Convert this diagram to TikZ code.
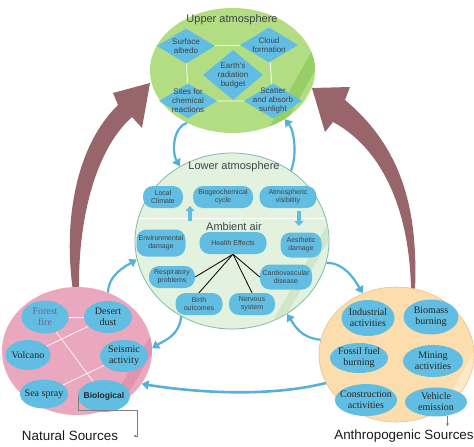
\documentclass[tikz,border=0pt]{standalone}
\usepackage{fontspec}
\setmainfont{Liberation Serif}
\setsansfont{Liberation Sans}
\usetikzlibrary{shapes.geometric, arrows.meta, positioning, calc}

\definecolor{uppergreen}{RGB}{178,221,130}
\definecolor{upperband}{RGB}{152,206,102}
\definecolor{lowergreen}{RGB}{226,242,222}
\definecolor{lowerband}{RGB}{208,230,203}
\definecolor{loweredge}{RGB}{125,188,168}
\definecolor{natpink}{RGB}{234,168,190}
\definecolor{natband}{RGB}{224,148,176}
\definecolor{anthorange}{RGB}{251,221,174}
\definecolor{anthband}{RGB}{253,232,200}
\definecolor{anthedge}{RGB}{238,192,142}
\definecolor{boxblue}{RGB}{98,189,226}
\definecolor{flowblue}{RGB}{86,177,217}
\definecolor{sourcebrown}{RGB}{152,101,107}
\definecolor{textgray}{RGB}{62,66,74}

\pgfdeclarelayer{bg}
\pgfdeclarelayer{mid}
\pgfsetlayers{bg,mid,main}

\tikzset{
  zone/.style={ellipse, inner sep=0pt},
  title/.style={font=\sffamily\fontsize{11}{12}\selectfont, text=textgray},
  dmd/.style={diamond, fill=boxblue, inner sep=0pt, minimum width=58pt, minimum height=35pt},
  dtext/.style={font=\sffamily\fontsize{8}{9}\selectfont, text=textgray, align=center},
  pill/.style={rounded corners=10pt, fill=boxblue, inner sep=0pt, minimum width=46pt, minimum height=22pt},
  ptext/.style={font=\sffamily\fontsize{7}{8.3}\selectfont, text=textgray, align=center},
  oval/.style={ellipse, fill=boxblue, inner sep=0pt, minimum width=48pt, minimum height=32pt},
  otext/.style={font=\fontsize{10}{11}\selectfont, text=black!85, align=center},
  flow/.style={flowblue, line width=2.2pt, -{Triangle[length=7pt,width=9pt]}},
  guide/.style={gray, line width=0.5pt, -{Stealth[length=3pt,width=3pt]}},
  srclabel/.style={font=\sffamily\fontsize{13.4}{14}\selectfont, text=black!90}
}

\begin{document}
\begin{tikzpicture}[x=1pt, y=-1pt]
\useasboundingbox (0,0) rectangle (474,447);

\begin{pgfonlayer}{bg}
  % big source arrows
  \fill[sourcebrown] (73,291) .. controls (64,230) and (72,150) .. (118,105)
    -- (113,93) -- (150,83) -- (142,128) -- (132,117)
    .. controls (95,150) and (78,220) .. (79,291) -- cycle;
  \fill[sourcebrown] (415,291) .. controls (418,215) and (405,150) .. (345,100)
    -- (350,87) -- (312,88) -- (325,132) -- (333,122)
    .. controls (385,150) and (410,215) .. (411,291) -- cycle;

  % zones
  \node[zone, fill=uppergreen, minimum width=165pt, minimum height=125pt] (upper) at (232.5,70.5) {};
  \node[zone, fill=lowergreen, draw=loweredge, line width=0.8pt, minimum width=194pt, minimum height=176pt] (lower) at (232,241) {};
  \node[zone, fill=natpink, minimum width=150pt, minimum height=128pt] (nat) at (77,351) {};
  \node[zone, fill=anthorange, draw=anthedge, line width=0.6pt, minimum width=155pt, minimum height=135pt] (anth) at (396.5,354.5) {};

  % glossy bands
  \begin{scope}
    \clip (upper.center) ellipse [x radius=82.5, y radius=62.5];
    \fill[upperband] (262,140) -- (318,40) -- (332,40) -- (276,140) -- cycle;
    \fill[uppergreen!60!white] (282,140) -- (338,40) -- (342,40) -- (286,140) -- cycle;
  \end{scope}
  \begin{scope}
    \clip (lower.center) ellipse [x radius=96.5, y radius=87.5];
    \fill[lowerband] (262,340) -- (330,220) -- (340,220) -- (272,340) -- cycle;
  \end{scope}
  \begin{scope}
    \clip (nat.center) ellipse [x radius=75, y radius=64];
    \fill[natband] (100,420) -- (160,320) -- (172,320) -- (112,420) -- cycle;
  \end{scope}
  \begin{scope}
    \clip (anth.center) ellipse [x radius=77, y radius=67];
    \fill[anthband] (430,430) -- (480,340) -- (490,340) -- (440,430) -- cycle;
  \end{scope}
\end{pgfonlayer}

% Upper atmosphere
\node[title] (uptitle) at (232,20) {Upper atmosphere};
\node[dmd, label={[dtext]center:Surface\\albedo}] (alb) at (186,46) {};
\node[dmd, label={[dtext]center:Cloud\\formation}] (cld) at (269,45) {};
\node[dmd, label={[dtext]center:Sites for\\chemical\\reactions}] (sites) at (188,101) {};
\node[dmd, label={[dtext]center:Scatter\\and absorb\\sunlight}] (scat) at (273,101) {};
\node[dmd, minimum width=60pt, minimum height=50pt, label={[dtext]center:Earth's\\radiation\\budget}] (earth) at (233,75) {};

% Lower atmosphere
\node[title] (lowtitle) at (234,167) {Lower atmosphere};
\node[pill, minimum width=40pt, label={[ptext]center:Local\\Climate}] (loc) at (163,197) {};
\node[pill, minimum width=60pt, label={[ptext]center:Biogeochemical\\cycle}] (bgc) at (223,197) {};
\node[pill, minimum width=57pt, label={[ptext]center:Atmospheric\\visibility}] (vis) at (288,197) {};
\node[title] (ambient) at (234,227) {Ambient air};
\node[pill, minimum width=49pt, minimum height=27pt, label={[ptext]center:Environmental\\damage}] (env) at (161,243) {};
\node[pill, minimum width=67pt, label={[ptext]center:Health Effects}] (hlth) at (233,243) {};
\node[pill, minimum width=41pt, minimum height=25pt, label={[ptext]center:Aesthetic\\damage}] (aes) at (301,245) {};
\node[pill, label={[ptext]center:Respiratory\\problems}] (resp) at (172,277) {};
\node[pill, minimum width=52pt, minimum height=25pt, label={[ptext]center:Cardiovascular\\disease}] (card) at (286,277) {};
\node[pill, minimum width=47pt, label={[ptext]center:Birth\\outcomes}] (birth) at (199,304) {};
\node[pill, label={[ptext]center:Nervous\\system}] (nerv) at (252,304) {};
\draw[white, line width=1pt] (139,218) -- (325,218);
\draw[boxblue, line width=4pt, -{Triangle[length=5pt,width=9pt]}] (190,221) -- (190,206);
\draw[boxblue, line width=4pt, -{Triangle[length=5pt,width=9pt]}] (299,211) -- (299,226);

% Natural sources
\node[oval, minimum width=47pt, minimum height=33pt, label={[otext, text=gray!80!blue]center:Forest\\fire}] (ff) at (45,317) {};
\node[oval, label={[otext]center:Desert\\dust}] (dd) at (108,317) {};
\node[oval, minimum width=45pt, minimum height=30pt, label={[otext]center:Volcano}] (vol) at (28,355) {};
\node[oval, label={[otext]center:Seismic\\activity}] (seis) at (124,356) {};
\node[oval, minimum height=29pt, label={[otext]center:Sea spray}] (sea) at (44,394) {};
\node[oval, minimum width=52pt, label={[otext, font=\sffamily\bfseries\fontsize{8.5}{10}\selectfont]center:Biological}] (bio) at (104,396) {};

% Anthropogenic sources
\node[oval, minimum width=53pt, minimum height=36pt, label={[otext]center:Industrial\\activities}] (ind) at (368,318) {};
\node[oval, minimum width=55pt, minimum height=35pt, label={[otext]center:Biomass\\burning}] (bms) at (431,317) {};
\node[oval, minimum width=58pt, minimum height=30pt, label={[otext]center:Fossil fuel\\burning}] (fos) at (359,358) {};
\node[oval, minimum width=60pt, label={[otext]center:Mining\\activities}] (min) at (433,361) {};
\node[oval, minimum width=62pt, label={[otext]center:Construction\\activities}] (con) at (366,400) {};
\node[oval, minimum width=62pt, minimum height=29pt, label={[otext]center:Vehicle\\emission}] (veh) at (436,402) {};

% labels
\node[srclabel] (natlab) at (70,436) {Natural Sources};
\node[srclabel] (anthlab) at (404,436) {Anthropogenic Sources};

\begin{pgfonlayer}{mid}
  \draw[white, line width=0.8pt] (alb) -- (cld) -- (scat) -- (sites) -- (alb);
  \draw[white, line width=0.7pt] (ff) -- (dd);
  \draw[white, line width=0.7pt] (ff) -- (bio);
  \draw[white, line width=0.7pt] (vol) -- (dd);
  \draw[white, line width=0.7pt] (sea) -- (seis);
  \draw[black, line width=0.8pt] (hlth.south) -- (resp.east);
  \draw[black, line width=0.8pt] (hlth.south) -- (birth.north);
  \draw[black, line width=0.8pt] (hlth.south) -- (nerv.north);
  \draw[black, line width=0.8pt] (hlth.south) -- (card.west);
\end{pgfonlayer}

% exchange flows
\draw[flow] (upper.229) .. controls +(-14,4) and +(-8,-14) .. (lower.125);
\draw[flow] (lower.50) .. controls +(6,-15) and +(10,12) .. (upper.-43);
\draw[flow] (lower.-13) .. controls +(18,0) and +(-8,-14) .. (anth.119);
\draw[flow] (anth.169) .. controls +(-20,-2) and +(8,12) .. (lower.-53);
\draw[flow] (lower.-124) .. controls +(-2,20) and +(12,-8) .. (nat.2);
\draw[flow] (nat.62) .. controls +(0,-18) and +(-10,6) .. (lower.191);
\draw[flow, line width=2.6pt] (anth.202) .. controls +(-60,15) and +(50,8) .. (nat.-27);

% pointers to labels
\coordinate (natbend) at (137,410);
\draw[guide] (bio.west) |- (natbend) |- ([xshift=12pt]natlab.east);
\draw[guide] (veh.-50) -- (veh.-50 |- anthlab.north);
\end{tikzpicture}
\end{document}
